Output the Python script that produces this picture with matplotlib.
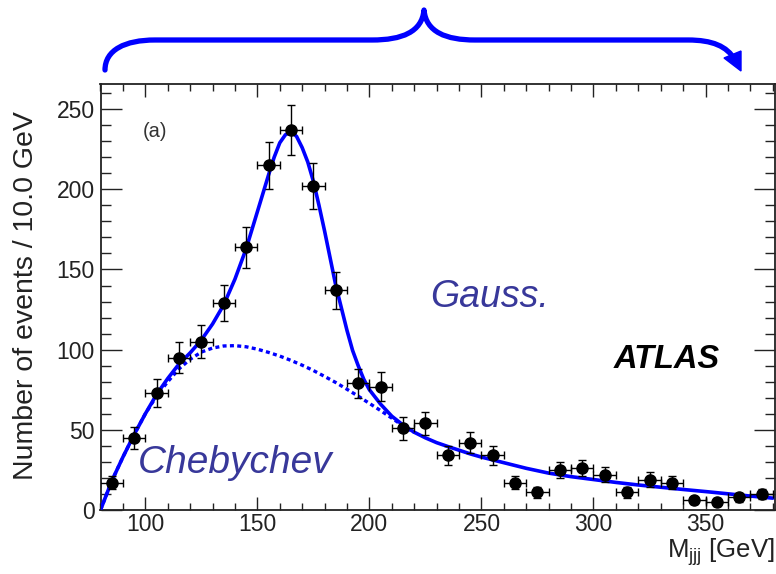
import matplotlib
matplotlib.use('Agg')
import matplotlib.pyplot as plt
from matplotlib.path import Path
from matplotlib.patches import PathPatch, Polygon
from matplotlib.ticker import MultipleLocator

plt.rcParams['font.family'] = ['Liberation Sans', 'DejaVu Sans']
plt.rcParams['mathtext.fontset'] = 'custom'
plt.rcParams['mathtext.rm'] = 'Liberation Sans'
plt.rcParams['mathtext.it'] = 'Liberation Sans:italic'

# ---------------- data ----------------
bin_centers = [85, 95, 105, 115, 125, 135, 145, 155, 165, 175, 185, 195, 205, 215, 225,
               235, 245, 255, 265, 275, 285, 295, 305, 315, 325, 335, 345, 355, 365, 375]
counts = [17, 45, 73, 95, 105, 129, 164, 215, 237, 202, 137, 79, 77, 51, 54,
          34, 42, 34, 17, 11, 25, 26, 22, 11, 19, 17, 6, 5, 8, 10]
count_err = [4.1, 6.7, 8.5, 9.7, 10.2, 11.4, 12.8, 14.7, 15.4, 14.2, 11.7, 8.9, 8.8, 7.1, 7.3,
             5.8, 6.5, 5.8, 4.1, 3.3, 5.0, 5.1, 4.7, 3.3, 4.4, 4.1, 2.4, 2.2, 2.8, 3.2]
bin_half_width = 5

fit_x = [80, 85, 90, 95, 100, 105, 110, 115, 120, 125, 130, 135, 140, 145, 150, 155,
         157.5, 160, 162.5, 165, 167.5, 170, 172.5, 175, 177.5, 180, 182.5, 185, 187.5, 190,
         192.5, 195, 197.5, 200, 205, 210, 215, 220, 225, 230, 235, 240, 245, 250,
         260, 270, 280, 290, 300, 310, 320, 330, 340, 350, 360, 370, 380]
fit_total = [0, 18, 33, 47, 60, 72, 82, 91, 98, 106, 116, 128, 144, 163, 186, 209,
             220, 229, 234, 236, 233, 226, 217, 205, 190, 174, 157, 140, 126, 112,
             99.5, 90, 81.5, 75, 66, 58.5, 53, 48.5, 45, 42, 39.6, 37.3, 35, 33,
             29.5, 26, 23, 20.8, 19, 17.2, 15.6, 14.2, 12.8, 11.5, 10.1, 8.7, 7.4]

bkg_x = [80, 85, 90, 95, 100, 105, 110, 115, 120, 125, 130, 135, 140, 145, 150, 155,
         160, 165, 170, 175, 180, 185, 190, 195, 200, 205, 210, 215, 220]
bkg_y = [0, 18, 33, 47, 60, 71, 80, 88, 94, 98.5, 101, 102.3, 102.5, 101.8, 100.3, 98.3,
         96, 93.3, 90.3, 87, 83.3, 79.5, 75.3, 71, 66.5, 62, 57.3, 52.5, 48.3]

x_ticks = [100, 150, 200, 250, 300, 350]
y_ticks = [0, 50, 100, 150, 200, 250]

W, H = 776, 574
fig = plt.figure(figsize=(W / 100, H / 100), dpi=100)

ax_l, ax_r, ax_t, ax_b = 100.5, 775, 83.5, 510
ax = fig.add_axes([ax_l / W, (H - ax_b) / H, (ax_r - ax_l) / W, (ax_b - ax_t) / H])

blue = '#0000ff'
txt_blue = '#38389a'

ax.plot(bkg_x, bkg_y, color=blue, lw=2.4, linestyle=(0, (1.2, 1.0)), zorder=2)
ax.plot(fit_x, fit_total, color=blue, lw=2.6, zorder=3, solid_capstyle='round',
        solid_joinstyle='round')
ax.errorbar(bin_centers, counts, yerr=count_err, xerr=bin_half_width, fmt='o',
            color='black', ms=8, elinewidth=1.0, capsize=3, capthick=1.0, zorder=4)

ax.set_xlim(80, 381)
ax.set_ylim(0, 266)
ax.set_xticks(x_ticks)
ax.set_yticks(y_ticks)
ax.xaxis.set_minor_locator(MultipleLocator(10))
ax.yaxis.set_minor_locator(MultipleLocator(10))
ax.tick_params(which='both', direction='in', top=True, right=True, colors='#222222',
               labelsize=16.5, width=1.0)
ax.tick_params(axis='x', which='major', length=9.5, pad=2.5)
ax.tick_params(axis='x', which='minor', length=5)
ax.tick_params(axis='y', which='major', length=15, pad=4)
ax.tick_params(axis='y', which='minor', length=7.5)
for s in ax.spines.values():
    s.set_linewidth(1.3)
    s.set_color('#222222')

ax.text(104.2, 236, '(a)', fontsize=14.5, color='#333333', ha='center', va='center')
ax.text(227.1, 126.6, 'Gauss.', fontsize=27, style='italic', color=txt_blue,
        ha='left', va='baseline')
ax.text(96.8, 23.1, 'Chebychev', fontsize=28, style='italic', color=txt_blue,
        ha='left', va='baseline')
ax.text(308.8, 88.5, 'ATLAS', fontsize=23.5, style='italic', weight='bold', color='black',
        ha='left', va='baseline')

fig.text(26 / W, (H - 296) / H, 'Number of events / 10.0 GeV', rotation=90,
         fontsize=20.5, color='#222222', ha='center', va='center')
fig.text(775 / W, (H - 558) / H, r'M$_{\mathrm{jjj}}$ [GeV]', fontsize=18.5,
         color='#222222', ha='right', va='baseline')

# brace decoration in pixel coordinates
ov = fig.add_axes([0, 0, 1, 1], facecolor='none')
ov.set_xlim(0, W)
ov.set_ylim(H, 0)
ov.axis('off')
verts = [(105, 70), (105, 50), (125, 40), (155, 40),
         (372, 40),
         (402, 40), (422, 32), (424, 10),
         (426, 32), (446, 40), (475, 40),
         (688, 40),
         (712, 40), (727, 46), (735, 60)]
codes = [Path.MOVETO, Path.CURVE4, Path.CURVE4, Path.CURVE4,
         Path.LINETO,
         Path.CURVE4, Path.CURVE4, Path.CURVE4,
         Path.CURVE4, Path.CURVE4, Path.CURVE4,
         Path.LINETO,
         Path.CURVE4, Path.CURVE4, Path.CURVE4]
ov.add_patch(PathPatch(Path(verts, codes), facecolor='none', edgecolor=blue, lw=3.8,
                       capstyle='round', joinstyle='round'))
ov.add_patch(Polygon([(741, 71), (724, 58), (741, 51)], closed=True, facecolor=blue,
                     edgecolor=blue, lw=1))

fig.savefig('out.png', dpi=100)
